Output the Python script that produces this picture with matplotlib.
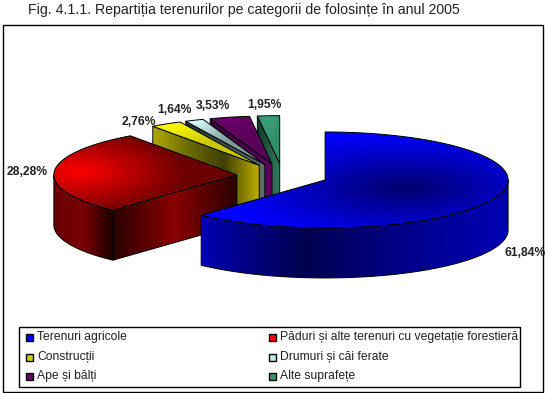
import matplotlib
matplotlib.use('Agg')
import matplotlib.pyplot as plt
import numpy as np
from matplotlib.colors import LinearSegmentedColormap
from matplotlib.patches import Polygon, Rectangle

plt.rcParams['font.family'] = ['Liberation Sans', 'DejaVu Sans']

title = 'Fig. 4.1.1. Repartiția terenurilor pe categorii de folosințe în anul 2005'
categories = ['Terenuri agricole', 'Păduri și alte terenuri cu vegetație forestieră',
              'Construcții', 'Drumuri și căi ferate', 'Ape și bălți', 'Alte suprafețe']
values = [61.84, 28.28, 2.76, 1.64, 3.53, 1.95]
value_labels = ['61,84%', '28,28%', '2,76%', '1,64%', '3,53%', '1,95%']

# culori: centru / margine pentru fata de sus, apoi gradientii
top_colors = [('#00006e', '#0000ff'), ('#ff0000', '#6a0000'), ('#ffff00', '#c8c800'),
              ('#d8ffff', '#7f9a9a'), ('#6a006a', '#5a005a'), ('#3f9f78', '#2f8f68')]
wall_colors = [['#0000b0', '#000050', '#00008a', '#0000b4'], ['#6a0000', '#7a0000', '#1a0000'],
               ['#6b6b00', '#c0b000'], ['#223030', '#5f7070'],
               ['#300030', '#600060'], ['#103828', '#2f7f60']]
face_colors = [['#000080', '#000080'], ['#2a0000', '#8a0000', '#2a0000'],
               ['#b0a800', '#6b6b00', '#3f3f00', '#c0b000'], ['#223030', '#5f7070'],
               ['#300030', '#600060'], ['#103828', '#2f7f60']]
legend_colors = ['#0000ff', '#ff0000', '#cccc00', '#bfe8e8', '#660066', '#339966']

label_pos = [(525, 253), (27, 172), (139, 122), (174, 110), (213, 106), (264, 105)]
legend_pos = [(25, 337), (268, 337), (25, 357), (268, 357), (25, 376), (268, 376)]

center_x, center_y = 282.5, 175.6
rx, ry = 183, 48
depth = 50
explode = 0.25

fig = plt.figure(figsize=(5.47, 3.93), dpi=100)
ax = fig.add_axes([0, 0, 1, 1])


def arc(cx, cy, a0, a1, n=90):
    t = np.radians(np.linspace(a0, a1, n))
    return np.column_stack([cx + rx * np.sin(t), cy - ry * np.cos(t)])


def shaded(points, image, cmap, z, extent):
    poly = Polygon(points, closed=True, transform=ax.transData, fc='none', ec='black', lw=0.7, zorder=z + 0.5)
    im = ax.imshow(image, extent=extent, cmap=cmap, vmin=0, vmax=1, aspect='auto', zorder=z,
                   origin='upper', interpolation='bilinear')
    ax.add_patch(poly)
    im.set_clip_path(poly)


def draw_wall(points, colors, z):
    x0, x1 = points[:, 0].min(), points[:, 0].max()
    y0, y1 = points[:, 1].min(), points[:, 1].max()
    cmap = LinearSegmentedColormap.from_list('w', colors)
    image = np.linspace(0, 1, 200)[None, :]
    shaded(points, image, cmap, z, (x0, x1, y1, y0))


def draw_top(points, colors, z, gx, gy):
    x0, x1 = points[:, 0].min(), points[:, 0].max()
    y0, y1 = points[:, 1].min(), points[:, 1].max()
    xx, yy = np.meshgrid(np.linspace(x0, x1, 200), np.linspace(y0, y1, 120))
    dist = np.hypot((xx - gx) / max(x1 - x0, 1), (yy - gy) / max(y1 - y0, 1)) * 1.7
    cmap = LinearSegmentedColormap.from_list('t', colors)
    shaded(points, np.clip(dist, 0, 1), cmap, z, (x0, x1, y1, y0))


starts = np.concatenate([[0], np.cumsum(values)[:-1]]) * 3.6
ends = np.cumsum(values) * 3.6

# de la feliile din spate spre cele din fata
for i in range(len(values) - 1, -1, -1):
    a0, a1 = starts[i], ends[i]
    mid = np.radians((a0 + a1) / 2)
    cx = center_x + explode * rx * np.sin(mid)
    cy = center_y - explode * ry * np.cos(mid)
    z = 10 + (len(values) - i) * 5
    apex = np.array([cx, cy])

    if np.sin(np.radians(a0)) < -1e-6:
        edge = arc(cx, cy, a0, a0, 1)[0]
        face = np.array([apex, edge, edge + [0, depth], apex + [0, depth]])
        draw_wall(face, face_colors[i], z)

    w0, w1 = max(a0, 90), min(a1, 270)
    if w1 > w0:
        upper = arc(cx, cy, w0, w1)
        draw_wall(np.vstack([upper, upper[::-1] + [0, depth]]), wall_colors[i], z + 1)

    outline = np.vstack([apex, arc(cx, cy, a0, a1)])
    gx, gy = outline[:, 0].mean(), outline[:, 1].mean()
    draw_top(outline, top_colors[i], z + 2, gx, gy)

for lab, (x, y) in zip(value_labels, label_pos):
    ax.text(x, y, lab, fontsize=8.7, fontweight='bold', ha='center', va='center', color='#222222', zorder=72)

# cadrul si titlul
ax.add_patch(Rectangle((3, 24.5), 540, 367, fc='none', ec='black', lw=1.0, zorder=70))
ax.text(28, 10, title, fontsize=10.2, ha='left', va='center', color='#222222')

# legenda
ax.add_patch(Rectangle((19, 327), 501, 60, fc='white', ec='black', lw=1.0, zorder=70))
for name, col, (x, y) in zip(categories, legend_colors, legend_pos):
    ax.add_patch(Rectangle((x + 0.5, y - 3.5), 7, 7, fc=col, ec='black', lw=1.0, zorder=71))
    ax.text(x + 12, y, name, fontsize=8.7, ha='left', va='center', color='#222222', zorder=71)

ax.set_xlim(0, 547)
ax.set_ylim(393, 0)
ax.axis('off')
fig.savefig('out.png', dpi=100)
